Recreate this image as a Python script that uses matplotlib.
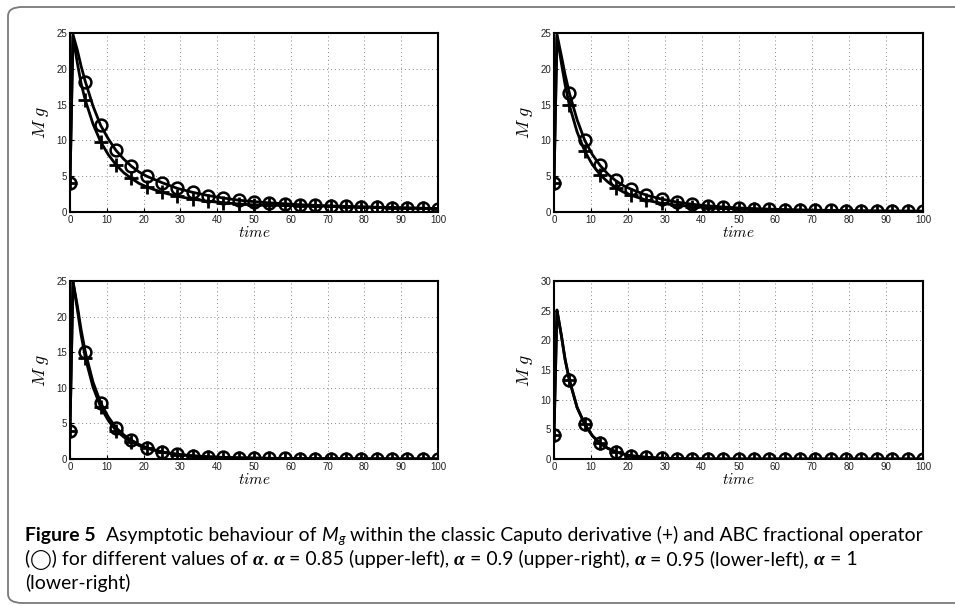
import matplotlib
matplotlib.use("Agg")
import matplotlib.pyplot as plt
from matplotlib.patches import FancyBboxPatch

plt.rcParams['mathtext.fontset'] = 'cm'

# sample times of the curves (markers sit on a subset of them)
time = [0, 0.8, 2, 3, 4.17, 6.25, 8.33, 10.42, 12.5, 14.58, 16.67, 18.75, 20.83,
        25, 29.17, 33.33, 37.5, 41.67, 45.83, 50, 54.17, 58.33, 62.5, 66.67,
        70.83, 75, 79.17, 83.33, 87.5, 91.67, 95.83, 100]
marker_idx = [0, 4, 6, 8, 10, 12] + list(range(13, 32))

# alpha = 0.85
abc_085 = [4.0, 24.8, 22.6, 20.4, 18.2, 14.8, 12.1, 10.2, 8.6, 7.4, 6.4, 5.6, 5.0,
           4.1, 3.3, 2.75, 2.3, 1.95, 1.65, 1.45, 1.28, 1.15, 1.02, 0.93,
           0.85, 0.78, 0.72, 0.66, 0.61, 0.56, 0.52, 0.48]
cap_085 = [4.0, 24.5, 20.8, 18.0, 15.6, 12.3, 9.8, 8.0, 6.6, 5.5, 4.7, 4.0, 3.5,
           2.75, 2.2, 1.8, 1.5, 1.3, 1.12, 1.0, 0.95, 0.92, 0.88, 0.84,
           0.8, 0.75, 0.7, 0.65, 0.6, 0.56, 0.52, 0.48]
# alpha = 0.9
abc_09 = [4.0, 24.8, 21.8, 19.2, 16.6, 12.9, 10.0, 8.0, 6.5, 5.3, 4.4, 3.7, 3.2,
          2.35, 1.8, 1.38, 1.08, 0.86, 0.7, 0.57, 0.48, 0.4, 0.34, 0.29,
          0.25, 0.22, 0.19, 0.17, 0.15, 0.13, 0.12, 0.11]
cap_09 = [4.0, 24.6, 20.8, 17.8, 14.9, 11.2, 8.5, 6.6, 5.2, 4.2, 3.4, 2.8, 2.35,
          1.65, 1.2, 0.95, 0.75, 0.6, 0.5, 0.42, 0.36, 0.31, 0.27, 0.24,
          0.21, 0.19, 0.17, 0.15, 0.13, 0.12, 0.11, 0.1]
# alpha = 0.95
abc_095 = [4.0, 25.0, 21.5, 18.2, 15.0, 10.8, 7.9, 5.9, 4.4, 3.4, 2.65, 2.05, 1.6,
           1.0, 0.68, 0.46, 0.32, 0.23, 0.17, 0.13, 0.1, 0.08, 0.07, 0.06,
           0.05, 0.04, 0.04, 0.03, 0.03, 0.03, 0.02, 0.02]
cap_095 = [4.0, 24.9, 21.0, 17.5, 14.2, 10.1, 7.3, 5.4, 4.0, 3.1, 2.4, 1.9, 1.5,
           0.95, 0.62, 0.42, 0.3, 0.21, 0.16, 0.12, 0.09, 0.07, 0.06, 0.05,
           0.04, 0.04, 0.03, 0.03, 0.02, 0.02, 0.02, 0.02]
# alpha = 1
abc_1 = [4.0, 25.1, 20.8, 16.8, 13.3, 8.7, 5.85, 3.9, 2.65, 1.8, 1.25, 0.85, 0.55,
         0.28, 0.13, 0.06, 0.03, 0.01, 0, 0, 0, 0, 0, 0,
         0, 0, 0, 0, 0, 0, 0, 0]
cap_1 = [4.0, 25.1, 20.8, 16.8, 13.3, 8.7, 5.85, 3.9, 2.65, 1.8, 1.25, 0.85, 0.55,
         0.28, 0.13, 0.06, 0.03, 0.01, 0, 0, 0, 0, 0, 0,
         0, 0, 0, 0, 0, 0, 0, 0]

panels = [
    (abc_085, cap_085, 25),
    (abc_09, cap_09, 25),
    (abc_095, cap_095, 25),
    (abc_1, cap_1, 30),
]

W, H = 955, 606
fig = plt.figure(figsize=(W / 100, H / 100), dpi=100)

# axes boxes in pixels: left, top, right, bottom
boxes = [(70, 33, 438, 212), (554, 33, 923, 212),
         (70, 281, 438, 459), (554, 281, 923, 459)]

for (abc, cap, ymax), (l, t, r, b) in zip(panels, boxes):
    ax = fig.add_axes([l / W, 1 - b / H, (r - l) / W, (b - t) / H])
    ax.plot(time, cap, color='k', lw=2, marker='+', markersize=9.5,
            markeredgewidth=2, markevery=marker_idx)
    ax.plot(time, abc, color='k', lw=2, marker='o', markersize=8.5,
            markerfacecolor='none', markeredgewidth=1.8, markevery=marker_idx)
    ax.set_xlim(0, 100)
    ax.set_ylim(0, ymax)
    ax.set_xticks(range(0, 101, 10))
    ax.set_yticks(range(0, ymax + 1, 5))
    ax.grid(True, linestyle=(0, (1, 3)), color='#888888', lw=0.7)
    ax.tick_params(direction='in', length=3, width=0.8, labelsize=7, pad=2,
                   labelcolor='#222222')
    for lab in ax.get_xticklabels() + ax.get_yticklabels():
        lab.set_fontfamily('Liberation Sans')
    for sp in ax.spines.values():
        sp.set_linewidth(1.5)
    ax.set_xlabel(r'$time$', fontsize=11, labelpad=0)
    ax.set_ylabel(r'$M\ g$', fontsize=13, labelpad=4)

# rounded frame around figure + caption
frame = FancyBboxPatch((8 / W, 1 - 603 / H), 1.05, (603 - 7) / H,
                       boxstyle='round,pad=0,rounding_size=0.015',
                       transform=fig.transFigure, fill=False,
                       edgecolor='#7a7a7a', lw=1.3, clip_on=False)
fig.patches.append(frame)

# caption, drawn as runs of differently styled text
renderer = fig.canvas.get_renderer()
cap_font = ['Lato', 'DejaVu Sans']
alpha_font = ['Liberation Serif', 'DejaVu Serif']


def styles(size):
    reg = dict(family=cap_font, fontsize=size)
    return {
        'reg': reg,
        'bold': dict(reg, fontweight='bold'),
        'ital': dict(reg, style='italic'),
        'sub': dict(reg, fontsize=size * 0.7, style='italic', dy=-size * 0.12),
        'alpha': dict(family=alpha_font, fontsize=size, fontweight='bold',
                      style='italic'),
    }


line1 = [
    ('Figure 5', 'bold', 2),
    ('Asymptotic behaviour of', 'reg', 1),
    ('M', 'ital', 0),
    ('g', 'sub', 1),
    ('within the classic Caputo derivative (+) and ABC fractional operator', 'reg', 0),
]
line2 = [
    ('(\u25EF) for different values of', 'reg', 1),
    ('\u03b1', 'alpha', 0),
    ('.', 'reg', 1),
    ('\u03b1', 'alpha', 1),
    ('= 0.85 (upper-left),', 'reg', 1),
    ('\u03b1', 'alpha', 1),
    ('= 0.9 (upper-right),', 'reg', 1),
    ('\u03b1', 'alpha', 1),
    ('= 0.95 (lower-left),', 'reg', 1),
    ('\u03b1', 'alpha', 1),
    ('= 1', 'reg', 0),
]
line3 = [('(lower-right)', 'reg', 0)]


def put_runs(x, y, runs, st, draw=True):
    space_a = fig.text(0, 0, 'x x', **st['reg'])
    space_b = fig.text(0, 0, 'xx', **st['reg'])
    space = (space_a.get_window_extent(renderer).width
             - space_b.get_window_extent(renderer).width)
    space_a.remove()
    space_b.remove()
    x0 = x
    for s, key, gap in runs:
        props = dict(st[key])
        dy = props.pop('dy', 0) * 100 / 72
        txt = fig.text(x / W, 1 - (y - dy) / H, s, va='baseline', ha='left', **props)
        x += txt.get_window_extent(renderer).width + gap * space
        if not draw:
            txt.remove()
    return x - x0


# fit the first caption line to its width in the reference
trial = 12.0
w = put_runs(25, 541, line1, styles(trial), draw=False)
size = trial * 894 / w
st = styles(size)
put_runs(25, 541, line1, st)
put_runs(25, 565, line2, st)
put_runs(25, 589, line3, st)

fig.savefig('out.png', dpi=100)
